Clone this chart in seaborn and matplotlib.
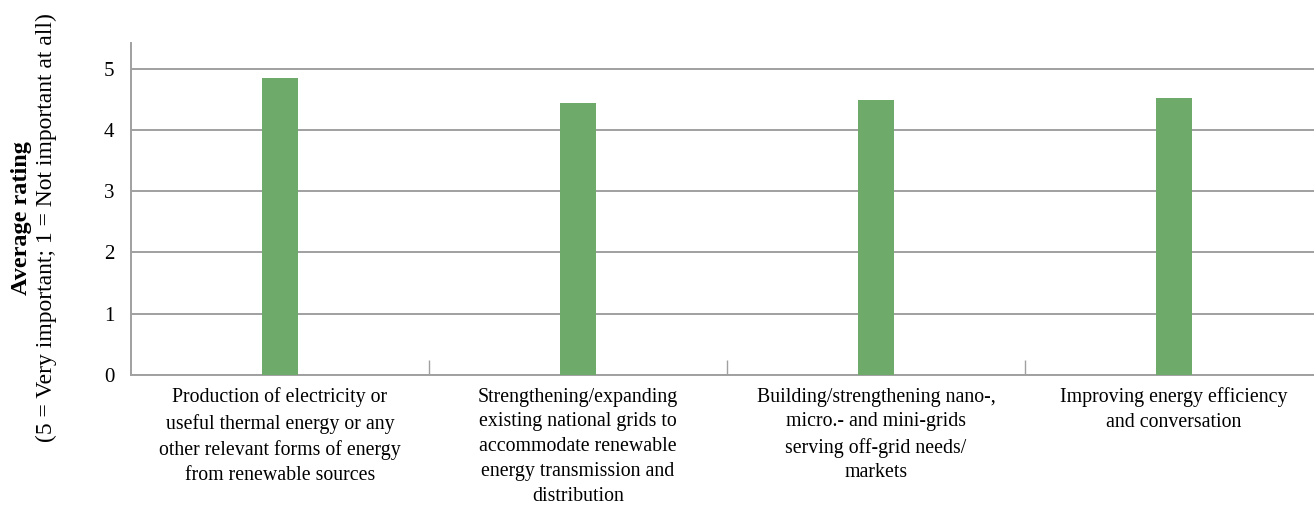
import matplotlib
matplotlib.use("Agg")
import matplotlib.pyplot as plt
import seaborn as sns
import pandas as pd
from matplotlib.ticker import FixedLocator

categories = [
    "Production of electricity or\nuseful thermal energy or any\nother relevant forms of energy\nfrom renewable sources",
    "Strengthening/expanding\nexisting national grids to\naccommodate renewable\nenergy transmission and\ndistribution",
    "Building/strengthening nano-,\nmicro.- and mini-grids\nserving off-grid needs/\nmarkets",
    "Improving energy efficiency\nand conversation",
]
values = [4.85, 4.44, 4.49, 4.53]
yticks = [0, 1, 2, 3, 4, 5]

sns.set_theme(style="white")
plt.rcParams["font.family"] = ["Liberation Serif", "DejaVu Serif"]
plt.rcParams["text.color"] = "black"
plt.rcParams["xtick.color"] = "black"
plt.rcParams["ytick.color"] = "black"

df = pd.DataFrame({"cat": categories, "val": values})

fig = plt.figure(figsize=(13.14, 5.11), dpi=100)
ax = fig.add_axes([131/1314, 1 - 375/511, (1323 - 131)/1314, (375 - 43)/511])

sns.barplot(data=df, x="cat", y="val", color="#6EAA6A", width=0.12,
            saturation=1, linewidth=0, edgecolor="none", ax=ax, zorder=3)

ax.set_xlim(-0.5, 3.5)
ax.set_ylim(0, 5.42)
ax.set_yticks(yticks)
ax.set_yticklabels([str(t) for t in yticks], fontsize=15)
ax.yaxis.grid(True, color="#A0A0A0", linewidth=1.4, zorder=0)
ax.set_axisbelow(True)
ax.tick_params(axis="y", length=0, pad=12, labelcolor="black")
ax.tick_params(axis="x", which="major", length=0, pad=9, labelsize=14.3,
               labelcolor="black")
ax.xaxis.set_minor_locator(FixedLocator([0.5, 1.5, 2.5]))
ax.tick_params(axis="x", which="minor", direction="in", length=11,
               width=1, color="#A0A0A0", bottom=True)
for lbl in ax.get_xticklabels():
    lbl.set_linespacing(1.42)
ax.set_xlabel("")
ax.set_ylabel("")
for s in ["top", "right"]:
    ax.spines[s].set_visible(False)
for s in ["left", "bottom"]:
    ax.spines[s].set_color("#A0A0A0")
    ax.spines[s].set_linewidth(1.4)

fig.text(22/1314, 1 - 218/511, "Average rating", rotation=90, fontsize=17.5,
         fontweight="bold", ha="center", va="center", color="black")
fig.text(46/1314, 1 - 228/511, "(5 = Very important; 1 = Not important at all)",
         rotation=90, fontsize=17, ha="center", va="center", color="black")

fig.savefig("out.png", dpi=100)
